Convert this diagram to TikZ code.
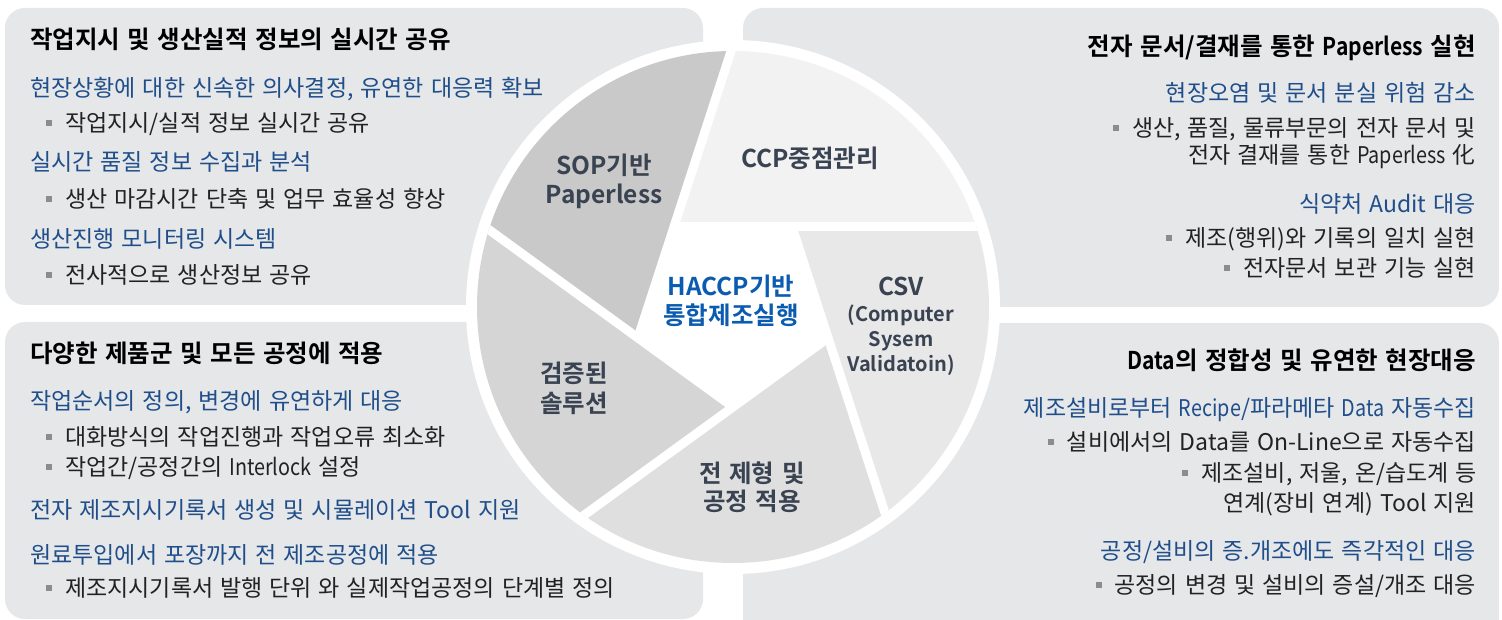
\documentclass[tikz,border=0pt]{standalone}
\usepackage{fontspec}
\setmainfont{Noto Sans CJK KR}[BoldFont={Noto Sans CJK KR Bold},WordSpace=1.35]
\newfontfamily\latfam{Noto Sans CJK KR}[BoldFont={Noto Sans CJK KR Bold},FakeStretch=0.86,WordSpace=1.35]
\newcommand{\lat}[1]{{\latfam #1}}
\usetikzlibrary{calc}
\definecolor{boxbg}{HTML}{E6E7E9}
\definecolor{bluetxt}{HTML}{1F4E8A}
\definecolor{piebl}{HTML}{0B5CB0}
\definecolor{pietxt}{HTML}{3A4352}
\definecolor{bulg}{HTML}{8C8C8C}
\definecolor{txtblk}{HTML}{222222}
\definecolor{segccp}{HTML}{F2F2F2}
\definecolor{segcsv}{HTML}{E8E8E8}
\definecolor{segall}{HTML}{DFDFDF}
\definecolor{segver}{HTML}{D5D5D5}
\definecolor{segsop}{HTML}{C9C9C9}
\newcommand{\bsq}{\textcolor{bulg}{\rule[5.6pt]{6pt}{6pt}}\hspace{13pt}}
\tikzset{
  ttl/.style={font=\fontsize{24.5}{28}\selectfont\bfseries, text=black, inner sep=0pt},
  blu/.style={font=\fontsize{23}{27}\selectfont, text=bluetxt, inner sep=0pt},
  blk/.style={font=\fontsize{23}{27}\selectfont, text=txtblk, inner sep=0pt},
  pielbl/.style={font=\fontsize{24.5}{28}\selectfont\bfseries, text=pietxt, inner sep=0pt, anchor=base},
  piesmall/.style={font=\fontsize{20}{23}\selectfont\bfseries, text=pietxt, inner sep=0pt, anchor=base},
  piecenter/.style={font=\fontsize{24.5}{28}\selectfont\bfseries, text=piebl, inner sep=0pt, anchor=base},
  gapline/.style={white, line width=9pt},
  panel/.style={fill=boxbg, rounded corners=20pt}
}
\begin{document}
\begin{tikzpicture}[x=1pt,y=1pt]
\useasboundingbox (0,0) rectangle (1502,-620);
% panels
\path[panel] (5,-8) rectangle (703,-305);
\path[panel] (743,-8) rectangle (1499,-307);
\path[panel] (5,-322) rectangle (703,-619);
\path[panel] (743,-323) rectangle (1499,-650);
% pie
\coordinate (c) at (733,-307);
\fill[white] (c) circle (267);
\coordinate (pA) at ($(c)+(126:100)$);
\coordinate (pB) at ($(c)+(54:100)$);
\coordinate (pC) at ($(c)+(-18:100)$);
\coordinate (pD) at ($(c)+(-90:100)$);
\coordinate (pE) at ($(c)+(198:100)$);
\begin{scope}
\clip (c) circle (256);
\fill[segccp] (pA) -- ($(pA)+(72:600)$) -- ($(pA)+(36:600)$) -- ($(pA)+(0:600)$) -- cycle;
\fill[segcsv] (pB) -- ($(pB)+(0:600)$) -- ($(pB)+(-36:600)$) -- ($(pB)+(-72:600)$) -- cycle;
\fill[segall] (pC) -- ($(pC)+(-72:600)$) -- ($(pC)+(-108:600)$) -- ($(pC)+(-144:600)$) -- cycle;
\fill[segver] (pD) -- ($(pD)+(-144:600)$) -- ($(pD)+(180:600)$) -- ($(pD)+(144:600)$) -- cycle;
\fill[segsop] (pE) -- ($(pE)+(144:600)$) -- ($(pE)+(108:600)$) -- ($(pE)+(72:600)$) -- cycle;
\draw[gapline] (pA) -- ($(pB)+(0:400)$);
\draw[gapline] (pB) -- ($(pC)+(-72:400)$);
\draw[gapline] (pC) -- ($(pD)+(-144:400)$);
\draw[gapline] (pD) -- ($(pE)+(144:400)$);
\draw[gapline] (pE) -- ($(pA)+(72:400)$);
\fill[white] (pA) -- (pB) -- (pC) -- (pD) -- (pE) -- cycle;
\end{scope}
% pie labels
\node[pielbl] (sop1) at (604,-174.7) {SOP기반};
\node[pielbl] (sop2) at (604,-203.7) {Paperless};
\node[pielbl] (ccp) at (810,-167.7) {CCP중점관리};
\node[piecenter] (hc1) at (731,-295.7) {HACCP기반};
\node[piecenter] (hc2) at (731,-324.7) {통합제조실행};
\node[pielbl] (csv1) at (901,-296) {CSV};
\node[piesmall] (csv2) at (901,-321.4) {(Computer};
\node[piesmall] (csv3) at (901,-346.4) {Sysem};
\node[piesmall] (csv4) at (901,-371.4) {Validatoin)};
\node[pielbl] (ver1) at (574,-382.7) {검증된};
\node[pielbl] (ver2) at (574,-412.7) {솔루션};
\node[pielbl] (all1) at (752,-482.7) {전 제형 및};
\node[pielbl] (all2) at (752,-510.7) {공정 적용};
% top-left panel
\node[ttl, anchor=base west] (tl0) at (30,-49) {작업지시 및 생산실적 정보의 실시간 공유};
\node[blu, anchor=base west] (tl1) at (30,-96.7) {현장상황에 대한 신속한 의사결정, 유연한 대응력 확보};
\node[blk, anchor=base west] (tl2) at (46,-131.7) {\bsq 작업지시/실적 정보 실시간 공유};
\node[blu, anchor=base west] (tl3) at (30,-170.7) {실시간 품질 정보 수집과 분석};
\node[blk, anchor=base west] (tl4) at (46,-207.7) {\bsq 생산 마감시간 단축 및 업무 효율성 향상};
\node[blu, anchor=base west] (tl5) at (30,-247.7) {생산진행 모니터링 시스템};
\node[blk, anchor=base west] (tl6) at (46,-283.7) {\bsq 전사적으로 생산정보 공유};
% top-right panel
\node[ttl, anchor=base east] (tr0) at (1476,-56) {전자 문서/결재를 통한 \lat{Paperless} 실현};
\node[blu, anchor=base east] (tr1) at (1476,-101.7) {현장오염 및 문서 분실 위험 감소};
\node[blk, anchor=base east] (tr2) at (1476,-136.7) {\bsq 생산, 품질, 물류부문의 전자 문서 및};
\node[blk, anchor=base east] (tr3) at (1476,-163.7) {전자 결재를 통한 \lat{Paperless} 化};
\node[blu, anchor=base east] (tr4) at (1476,-212.7) {식약처 Audit 대응};
\node[blk, anchor=base east] (tr5) at (1476,-246.7) {\bsq 제조(행위)와 기록의 일치 실현};
\node[blk, anchor=base east] (tr6) at (1476,-276.7) {\bsq 전자문서 보관 기능 실현};
% bottom-left panel
\node[ttl, anchor=base west] (bl0) at (30,-362) {다양한 제품군 및 모든 공정에 적용};
\node[blu, anchor=base west] (bl1) at (30,-409.7) {작업순서의 정의, 변경에 유연하게 대응};
\node[blk, anchor=base west] (bl2) at (46,-445.7) {\bsq 대화방식의 작업진행과 작업오류 최소화};
\node[blk, anchor=base west] (bl3) at (46,-475.7) {\bsq 작업간/공정간의 \lat{Interlock} 설정};
\node[blu, anchor=base west] (bl4) at (30,-518.7) {전자 제조지시기록서 생성 및 시뮬레이션 Tool 지원};
\node[blu, anchor=base west] (bl5) at (30,-563.7) {원료투입에서 포장까지 전 제조공정에 적용};
\node[blk, anchor=base west] (bl6) at (46,-596.7) {\bsq 제조지시기록서 발행 단위 와 실제작업공정의 단계별 정의};
% bottom-right panel
\node[ttl, anchor=base east] (br0) at (1476,-369) {\lat{Data}의 정합성 및 유연한 현장대응};
\node[blu, anchor=base east] (br1) at (1476,-416.7) {제조설비로부터 \lat{Recipe}/파라메타 \lat{Data} 자동수집};
\node[blk, anchor=base east] (br2) at (1476,-450.7) {\bsq 설비에서의 Data를 On-Line으로 자동수집};
\node[blk, anchor=base east] (br3) at (1477,-481.7) {\bsq 제조설비, 저울, 온/습도계 등};
\node[blk, anchor=base east] (br4) at (1476,-511.7) {연계(장비 연계) Tool 지원};
\node[blu, anchor=base east] (br5) at (1476,-559.7) {공정/설비의 증.개조에도 즉각적인 대응};
\node[blk, anchor=base east] (br6) at (1476,-593.7) {\bsq 공정의 변경 및 설비의 증설/개조 대응};
\end{tikzpicture}
\end{document}
